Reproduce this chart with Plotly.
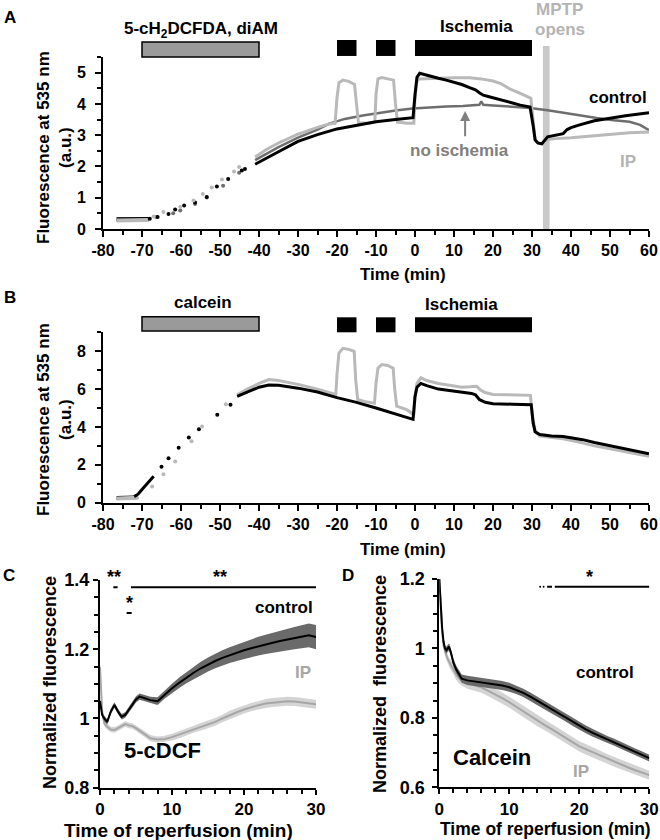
import plotly.graph_objects as go

# ---------------- DATA ----------------
# Panel A: 5-cH2DCFDA loading, fluorescence at 535 nm (a.u.)
a_pre_t = [-76.5, -75, -73.5, -72, -70.5, -69, -68.3]
a_pre_ctrl = [0.31, 0.31, 0.31, 0.3, 0.31, 0.31, 0.32]
a_pre_noisch = [0.3, 0.3, 0.3, 0.3, 0.3, 0.3, 0.31]
a_pre_ip = [0.27, 0.27, 0.27, 0.28, 0.28, 0.28, 0.29]

a_dot_ctrl_t = [-68, -66, -63.2, -61.5, -59.2, -56.4, -53.4, -50.8, -47.9, -44.4, -43.6]
a_dot_ctrl = [0.33, 0.38, 0.48, 0.62, 0.75, 0.85, 1.02, 1.36, 1.6, 1.87, 1.92]
a_dot_ip_t = [-67, -64.5, -60.2, -56.8, -54.4, -52.1, -49.5, -46.4, -45.1]
a_dot_ip = [0.4, 0.54, 0.7, 0.91, 1.12, 1.33, 1.58, 1.84, 1.98]
a_dot_noisch_t = [-66.4, -62, -60.2, -56.4, -53.4, -49.2, -45.1]
a_dot_noisch = [0.38, 0.5, 0.59, 0.8, 1.01, 1.38, 1.8]

a_ctrl_t = [-41, -38, -35, -30, -25, -20, -15, -10, -5, -0.5, 0, 0.5, 1.2, 2, 4, 6, 8, 10, 12, 14, 15.5,
            16.5, 17.5, 19, 21, 23, 25, 27, 29.5, 30.3, 30.8, 31.5, 32.5, 34, 36, 38, 39, 40, 42, 44, 46, 48,
            50, 52, 54, 56, 58, 60]
a_ctrl = [2.07, 2.28, 2.47, 2.8, 3.02, 3.2, 3.32, 3.43, 3.5, 3.56, 4.3, 4.85, 4.98, 4.95, 4.88, 4.82, 4.76,
          4.7, 4.62, 4.52, 4.45, 4.36, 4.28, 4.23, 4.17, 4.1, 4.03, 3.96, 3.9, 3.3, 2.85, 2.75, 2.72, 2.95,
          3.0, 3.05, 3.18, 3.24, 3.32, 3.4, 3.46, 3.5, 3.55, 3.58, 3.62, 3.65, 3.68, 3.72]
a_ip_t = [-41, -38, -35, -30, -25, -22, -20.5, -20, -19.5, -18.5, -17, -15.5, -15, -14.5, -12, -10.3, -10,
          -9.5, -8.5, -7, -5.5, -5, -4.5, -2, -0.3, 0, 0.5, 1, 3, 6, 10, 14, 17, 20, 22, 24, 26, 28, 29.7,
          30.2, 30.8, 31.5, 32.5, 34, 36, 40, 45, 50, 55, 60]
a_ip = [2.3, 2.55, 2.75, 3.03, 3.25, 3.36, 3.38, 4.2, 4.68, 4.76, 4.72, 4.62, 4.0, 3.4, 3.38, 3.42, 4.3,
        4.8, 4.84, 4.8, 4.76, 4.0, 3.42, 3.38, 3.38, 4.2, 4.72, 4.8, 4.81, 4.82, 4.84, 4.84, 4.8, 4.73,
        4.65, 4.5, 4.4, 4.28, 4.18, 3.5, 2.85, 2.75, 2.72, 2.86, 2.89, 2.92, 2.97, 3.02, 3.08, 3.1]
a_noisch_t = [-41, -38, -35, -30, -25, -22, -18, -13.4, -9, -5, -0.6, 4, 8, 12.3, 15, 16.5, 17, 17.5, 20,
              25, 29.5, 34, 38, 42, 46.6, 51, 55, 57.7, 59, 60]
a_noisch = [2.2, 2.42, 2.62, 2.92, 3.18, 3.37, 3.52, 3.63, 3.72, 3.79, 3.85, 3.9, 3.92, 3.93, 3.95, 3.97,
            4.08, 3.97, 3.95, 3.92, 3.87, 3.8, 3.72, 3.63, 3.55, 3.48, 3.43, 3.33, 3.24, 3.16]

# Panel B: calcein loading
b_pre_t = [-76.5, -75, -73.5, -72, -71]
b_pre_ctrl = [0.25, 0.25, 0.25, 0.27, 0.32]
b_pre_ip = [0.22, 0.22, 0.23, 0.24, 0.26]
b_ctrl_early_t = [-72, -71, -70, -69, -68, -67]
b_ctrl_early = [0.32, 0.45, 0.7, 0.95, 1.2, 1.4]
b_dot_ctrl_t = [-65, -63.2, -60.6, -58, -55.4, -50.7, -47.3]
b_dot_ctrl = [1.9, 2.35, 2.9, 3.44, 3.88, 4.65, 5.18]
b_dot_ip_t = [-67.4, -64.5, -61.5, -57.3, -54.6, -48.5]
b_dot_ip = [0.85, 1.5, 2.17, 3.25, 4.03, 5.2]

b_ctrl_t = [-45.6, -43, -40, -37.5, -35, -30, -25, -20, -15, -10, -5, -0.5, 0, 0.5, 1.5, 3, 6, 9, 12,
            14.5, 15.5, 16.5, 18, 20, 25, 29.8, 30.3, 30.8, 32, 35, 38, 40, 43, 46, 50, 55, 60]
b_ctrl = [5.62, 5.85, 6.1, 6.22, 6.2, 6.05, 5.85, 5.55, 5.3, 5.0, 4.67, 4.4, 5.6, 6.1, 6.3, 6.18, 6.0,
          5.92, 5.82, 5.77, 5.7, 5.45, 5.3, 5.23, 5.2, 5.17, 4.2, 3.75, 3.6, 3.52, 3.5, 3.44, 3.33, 3.18,
          3.02, 2.78, 2.58]
b_ip_t = [-45.6, -43, -40, -37.5, -35, -30, -25, -20.3, -20, -19.5, -18.5, -17, -15.6, -15.2, -14.7, -13,
          -10.4, -10, -9.5, -8.5, -7, -5.6, -5.2, -4.7, -2, -0.3, 0, 0.5, 1.5, 3, 6, 9, 12, 14, 15.8, 16.8,
          18, 20, 25, 29.6, 30.1, 30.8, 32, 35, 38, 42, 46, 50, 55, 60]
b_ip = [5.7, 6.0, 6.3, 6.5, 6.45, 6.25, 6.0, 5.72, 6.8, 7.9, 8.15, 8.1, 8.0, 6.5, 5.45, 5.35, 5.25, 6.3,
        7.1, 7.3, 7.25, 7.1, 6.0, 5.1, 4.9, 4.65, 5.6, 6.3, 6.6, 6.45, 6.3, 6.2, 6.1, 6.12, 6.15, 5.95,
        5.82, 5.72, 5.7, 5.67, 4.6, 3.75, 3.52, 3.45, 3.38, 3.2, 3.0, 2.85, 2.65, 2.45]

# Protocol bars (min)
loading_bar = [-70, -40]
ischemia_bars = [[-20, -15], [-10, -5], [0, 30]]
mptp_band = [32.8, 34.5]

# Panel C: 5-cDCF normalized fluorescence during reperfusion
c_t = [0, 0.3, 0.6, 1.0, 1.5, 2.0, 2.5, 3.0, 3.5, 4.0, 4.5, 5.0, 5.5, 6.0, 7, 8, 9, 10, 11, 12, 13, 14,
       15, 16, 17, 18, 19, 20, 21, 22, 23, 24, 25, 26, 27, 28, 29, 30]
c_ctrl = [1.05, 1.01, 1.0, 0.99, 1.02, 1.039, 1.02, 1.005, 1.01, 1.025, 1.04, 1.055, 1.063, 1.06, 1.053,
          1.05, 1.07, 1.087, 1.103, 1.118, 1.132, 1.145, 1.156, 1.166, 1.175, 1.183, 1.19, 1.197, 1.203,
          1.209, 1.214, 1.219, 1.224, 1.228, 1.232, 1.236, 1.24, 1.235]
c_ctrl_err = [0.008, 0.008, 0.008, 0.008, 0.008, 0.008, 0.008, 0.008, 0.008, 0.008, 0.008, 0.009, 0.009,
              0.009, 0.01, 0.011, 0.012, 0.013, 0.015, 0.016, 0.018, 0.019, 0.02, 0.021, 0.022, 0.023,
              0.024, 0.025, 0.026, 0.027, 0.028, 0.029, 0.03, 0.031, 0.032, 0.033, 0.034, 0.035]
c_ip = [1.15, 1.02, 0.985, 0.976, 0.968, 0.967, 0.972, 0.978, 0.984, 0.98, 0.978, 0.972, 0.965, 0.957,
        0.943, 0.939, 0.941, 0.946, 0.953, 0.962, 0.969, 0.976, 0.982, 0.99, 1.0, 1.01, 1.018, 1.026,
        1.033, 1.038, 1.043, 1.046, 1.049, 1.05, 1.049, 1.047, 1.045, 1.041]
c_ip_err = [0.008, 0.008, 0.008, 0.008, 0.008, 0.008, 0.008, 0.008, 0.008, 0.008, 0.008, 0.008, 0.008,
            0.008, 0.009, 0.009, 0.009, 0.01, 0.01, 0.01, 0.01, 0.011, 0.011, 0.011, 0.011, 0.012, 0.012,
            0.012, 0.012, 0.012, 0.013, 0.013, 0.013, 0.013, 0.013, 0.013, 0.013, 0.013]
c_sig_long_t = [4.3, 30]
c_sig_long_y = [1.379, 1.379]
c_sig_dash1_t = [1.85, 2.45]
c_sig_dash1_y = [1.379, 1.379]
c_sig_dash2_t = [3.7, 4.4]
c_sig_dash2_y = [1.305, 1.305]

# Panel D: calcein normalized fluorescence during reperfusion
d_t = [0, 0.2, 0.4, 0.6, 0.8, 1.0, 1.2, 1.4, 1.7, 2.0, 2.4, 2.8, 3.2, 4, 5, 6, 7, 8, 9, 10, 11, 12, 13,
       14, 15, 16, 17, 18, 19, 20, 21, 22, 23, 24, 25, 26, 27, 28, 29, 30]
d_ctrl = [1.2, 1.12, 1.06, 1.02, 1.0, 0.995, 1.0, 1.005, 0.985, 0.96, 0.94, 0.925, 0.913, 0.908, 0.905,
          0.903, 0.9, 0.897, 0.893, 0.888, 0.881, 0.872, 0.861, 0.849, 0.837, 0.825, 0.813, 0.801, 0.788,
          0.776, 0.766, 0.756, 0.747, 0.738, 0.73, 0.72, 0.711, 0.702, 0.693, 0.684]
d_ctrl_err = [0.01, 0.01, 0.01, 0.01, 0.01, 0.01, 0.01, 0.01, 0.01, 0.011, 0.011, 0.012, 0.012, 0.013,
              0.013, 0.013, 0.013, 0.013, 0.013, 0.013, 0.012, 0.012, 0.012, 0.012, 0.012, 0.012, 0.011,
              0.011, 0.011, 0.011, 0.011, 0.011, 0.01, 0.01, 0.01, 0.01, 0.01, 0.01, 0.01, 0.01]
d_ip = [1.2, 1.1, 1.05, 1.01, 0.99, 0.98, 0.97, 0.96, 0.95, 0.94, 0.925, 0.915, 0.908, 0.9, 0.895, 0.888,
        0.878, 0.868, 0.857, 0.845, 0.832, 0.818, 0.804, 0.792, 0.78, 0.768, 0.756, 0.744, 0.731, 0.718,
        0.709, 0.7, 0.691, 0.682, 0.673, 0.665, 0.657, 0.649, 0.642, 0.635]
d_ip_err = [0.012, 0.012, 0.012, 0.012, 0.012, 0.013, 0.013, 0.013, 0.014, 0.014, 0.015, 0.015, 0.015,
            0.016, 0.016, 0.016, 0.016, 0.016, 0.016, 0.016, 0.016, 0.016, 0.016, 0.016, 0.015, 0.015,
            0.015, 0.015, 0.015, 0.015, 0.015, 0.014, 0.014, 0.014, 0.014, 0.014, 0.014, 0.013, 0.013,
            0.013]
d_sig_long_t = [16.5, 30]
d_sig_long_y = [1.178, 1.178]
d_sig_dash_t = [15.4, 16.1]
d_sig_dots_t = [14.4, 14.9]
d_sig_y = [1.178, 1.178]

# Tick labels
ab_xticks = [-80, -70, -60, -50, -40, -30, -20, -10, 0, 10, 20, 30, 40, 50, 60]
ab_xticktext = ["-80", "-70", "-60", "-50", "-40", "-30", "-20", "-10", "0", "10", "20", "30", "40", "50", "60"]
c_yticks = [0.8, 1.0, 1.2, 1.4]
c_yticktext = ["0.8", "1", "1.2", "1.4"]
d_yticks = [0.6, 0.8, 1.0, 1.2]
d_yticktext = ["0.6", "0.8", "1", "1.2"]

# ---------------- STYLE ----------------
W, H = 660, 840
FONT = "Liberation Sans"
BLACK = "#000000"
IPCOL = "#b9b9b9"
NOISCH = "#6e6e6e"
C_IPLINE = "#a6a6a6"
C_IPBAND = "#d4d4d4"
C_CTRLBAND = "#6a6a6a"


def pxx(x):
    return x / W


def pyy(y):
    return 1 - y / H


fig = go.Figure()


def line(x, y, color, width, xa, ya, mode="lines", msize=4):
    fig.add_trace(go.Scatter(x=x, y=y, mode=mode, line=dict(color=color, width=width),
                             marker=dict(color=color, size=msize, line=dict(width=0)),
                             xaxis=xa, yaxis=ya, hoverinfo="skip", showlegend=False))


def band(x, y, err, color, xa, ya):
    upper = [v + e for v, e in zip(y, err)]
    lower = [v - e for v, e in zip(y, err)]
    fig.add_trace(go.Scatter(x=x, y=upper, mode="lines", line=dict(width=0, color=color),
                             xaxis=xa, yaxis=ya, hoverinfo="skip", showlegend=False))
    fig.add_trace(go.Scatter(x=x, y=lower, mode="lines", line=dict(width=0, color=color),
                             fill="tonexty", fillcolor=color, xaxis=xa, yaxis=ya,
                             hoverinfo="skip", showlegend=False))


# Panel A traces
line(a_pre_t, a_pre_noisch, NOISCH, 4, "x", "y")
line(a_pre_t, a_pre_ctrl, BLACK, 4, "x", "y")
line(a_pre_t, a_pre_ip, IPCOL, 4, "x", "y")
line(a_dot_noisch_t, a_dot_noisch, NOISCH, 0, "x", "y", mode="markers")
line(a_dot_ctrl_t, a_dot_ctrl, BLACK, 0, "x", "y", mode="markers")
line(a_dot_ip_t, a_dot_ip, IPCOL, 0, "x", "y", mode="markers")
line(a_noisch_t, a_noisch, NOISCH, 2.5, "x", "y")
line(a_ip_t, a_ip, IPCOL, 3, "x", "y")
line(a_ctrl_t, a_ctrl, BLACK, 3, "x", "y")

# Panel B traces
line(b_pre_t, b_pre_ctrl, BLACK, 4, "x2", "y2")
line(b_pre_t, b_pre_ip, IPCOL, 4, "x2", "y2")
line(b_ctrl_early_t, b_ctrl_early, BLACK, 3, "x2", "y2")
line(b_dot_ctrl_t, b_dot_ctrl, BLACK, 0, "x2", "y2", mode="markers")
line(b_dot_ip_t, b_dot_ip, IPCOL, 0, "x2", "y2", mode="markers")
line(b_ip_t, b_ip, IPCOL, 3, "x2", "y2")
line(b_ctrl_t, b_ctrl, BLACK, 3, "x2", "y2")

# Panel C traces
band(c_t, c_ip, c_ip_err, C_IPBAND, "x3", "y3")
line(c_t, c_ip, C_IPLINE, 2, "x3", "y3")
band(c_t, c_ctrl, c_ctrl_err, C_CTRLBAND, "x3", "y3")
line(c_t, c_ctrl, BLACK, 2, "x3", "y3")
line(c_sig_long_t, c_sig_long_y, BLACK, 2, "x3", "y3")
line(c_sig_dash1_t, c_sig_dash1_y, BLACK, 2, "x3", "y3")
line(c_sig_dash2_t, c_sig_dash2_y, BLACK, 2, "x3", "y3")

# Panel D traces
band(d_t, d_ip, d_ip_err, C_IPBAND, "x4", "y4")
line(d_t, d_ip, C_IPLINE, 2, "x4", "y4")
band(d_t, d_ctrl, d_ctrl_err, C_CTRLBAND, "x4", "y4")
line(d_t, d_ctrl, BLACK, 2, "x4", "y4")
line(d_sig_long_t, d_sig_long_y, BLACK, 2, "x4", "y4")
line(d_sig_dash_t, d_sig_y, BLACK, 2, "x4", "y4")
line(d_sig_dots_t, d_sig_y, BLACK, 2, "x4", "y4", mode="markers", msize=2)


# ---------------- AXES ----------------
def axis(**kw):
    base = dict(showline=True, linecolor="black", linewidth=2, ticks="outside", ticklen=6,
                tickwidth=2, tickcolor="black", showgrid=False, zeroline=False, automargin=False,
                tickfont=dict(family=FONT, size=16, color="black", weight="bold"),
                fixedrange=True)
    base.update(kw)
    return base


def minor(tick0, dtick, ln=4):
    return dict(tick0=tick0, dtick=dtick, ticks="outside", ticklen=ln, tickwidth=2,
                tickcolor="black", showgrid=False)


cd_font = dict(family=FONT, size=18, color="black", weight="bold")
cd_xfont = dict(family=FONT, size=17, color="black", weight="bold")

fig.update_layout(
    template="none",
    xaxis=axis(domain=[pxx(103), pxx(649)], range=[-80, 60], anchor="y", tickmode="array",
               tickvals=ab_xticks, ticktext=ab_xticktext, minor=minor(-80, 5)),
    yaxis=axis(domain=[pyy(229), pyy(57)], range=[0, 5.5], anchor="x", tick0=0, dtick=1,
               minor=minor(0, 0.5), ticklabelstandoff=6),
    xaxis2=axis(domain=[pxx(103), pxx(649)], range=[-80, 60], anchor="y2", tickmode="array",
                tickvals=ab_xticks, ticktext=ab_xticktext, minor=minor(-80, 5)),
    yaxis2=axis(domain=[pyy(502.7), pyy(332.3)], range=[0, 9], anchor="x2", tick0=0, dtick=2,
                minor=minor(0, 1), ticklabelstandoff=6),
    xaxis3=axis(domain=[pxx(100), pxx(316)], range=[0, 30], anchor="y3", tick0=0, dtick=10,
                minor=minor(0, 2), tickfont=cd_xfont, ticklen=5),
    yaxis3=axis(domain=[pyy(787.7), pyy(580)], range=[0.8, 1.4], anchor="x3", tickmode="array",
                tickvals=c_yticks, ticktext=c_yticktext, minor=minor(0.8, 0.05),
                tickfont=cd_font, ticklen=5),
    xaxis4=axis(domain=[pxx(439.3), pxx(649.3)], range=[0, 30], anchor="y4", tick0=0, dtick=10,
                minor=minor(0, 2), tickfont=cd_xfont, ticklen=5),
    yaxis4=axis(domain=[pyy(787.3), pyy(579)], range=[0.6, 1.2], anchor="x4", tickmode="array",
                tickvals=d_yticks, ticktext=d_yticktext, minor=minor(0.6, 0.05),
                tickfont=cd_font, ticklen=5, ticklabelstandoff=4),
)

# ---------------- SHAPES ----------------
shapes = []
shapes.append(dict(type="rect", xref="x", yref="y domain", x0=loading_bar[0], x1=loading_bar[1],
                   y0=1.0, y1=1.087, fillcolor="#9a9a9a", line=dict(color="black", width=1.5)))
for b0, b1 in ischemia_bars:
    shapes.append(dict(type="rect", xref="x", yref="y domain", x0=b0, x1=b1, y0=1.006, y1=1.099,
                       fillcolor="black", line=dict(width=0)))
shapes.append(dict(type="rect", xref="x", yref="y domain", x0=mptp_band[0], x1=mptp_band[1],
                   y0=0, y1=1.064, fillcolor="#c9c9c9", line=dict(width=0), layer="below"))
shapes.append(dict(type="rect", xref="x2", yref="y2 domain", x0=loading_bar[0], x1=loading_bar[1],
                   y0=1.008, y1=1.091, fillcolor="#9a9a9a", line=dict(color="black", width=1.5)))
for b0, b1 in ischemia_bars:
    shapes.append(dict(type="rect", xref="x2", yref="y2 domain", x0=b0, x1=b1, y0=1.0, y1=1.088,
                       fillcolor="black", line=dict(width=0)))
fig.update_layout(shapes=shapes)

# ---------------- ANNOTATIONS ----------------
anns = []


def txt(text, x, y, size=17, color="black", xref="paper", yref="paper", angle=0, **kw):
    d = dict(text=text, x=x, y=y, xref=xref, yref=yref, showarrow=False, textangle=angle,
             font=dict(family=FONT, size=size, color=color, weight="bold"),
             xanchor="center", yanchor="middle")
    d.update(kw)
    anns.append(d)


txt("A", pxx(10), pyy(17), size=17)
txt("B", pxx(10), pyy(297), size=17)
txt("C", pxx(9), pyy(575), size=17)
txt("D", pxx(348), pyy(575), size=17)

# Panel A
txt("5-cH<sub>2</sub>DCFDA, diAM", -55, pyy(30), xref="x")
txt("Ischemia", 15.7, pyy(27), xref="x")
txt("MPTP", 37.1, pyy(10), color="#b4b4b4", xref="x")
txt("opens", 37.1, pyy(30), color="#b4b4b4", xref="x")
txt("control", 52, pyy(97), xref="x")
txt("no ischemia", 11.3, pyy(150), color="#808080", xref="x")
txt("IP", 54.6, pyy(162), color="#b4b4b4", xref="x")
anns.append(dict(x=12.85, y=3.77, ax=12.85, ay=2.92, xref="x", yref="y", axref="x", ayref="y",
                 showarrow=True, arrowhead=2, arrowsize=1, arrowwidth=2, arrowcolor="#808080", text=""))
txt("Fluorescence at 535 nm<br>(a.u.)", pxx(54), pyy(148), angle=-90)
txt("Time (min)", pxx(403), pyy(275))

# Panel B
txt("calcein", -54.4, pyy(302), xref="x2")
txt("Ischemia", 12, pyy(304), xref="x2")
txt("Fluorescence at 535 nm<br>(a.u.)", pxx(54), pyy(420), angle=-90)
txt("Time (min)", pxx(403), pyy(549))

# Panel C
txt("**", 1.95, pyy(577), xref="x3", size=18)
txt("*", 4.07, pyy(603), xref="x3", size=18)
txt("**", 16.7, pyy(577), xref="x3", size=18)
txt("control", pxx(284), pyy(607))
txt("IP", pxx(303), pyy(672), color="#a6a6a6")
txt("5-cDCF", pxx(162), pyy(750), size=22)
txt("Normalized fluorescence", pxx(50), pyy(683), size=18, angle=-90)
txt("Time of reperfusion (min)", pxx(178), pyy(830), size=19)

# Panel D
txt("*", 21.5, pyy(577), xref="x4", size=18)
txt("control", pxx(605), pyy(672))
txt("IP", pxx(581), pyy(771), color="#a6a6a6")
txt("Calcein", pxx(492), pyy(757), size=22)
txt("Normalized  fluorescence", pxx(380), pyy(684), size=18, angle=-90)
txt("Time of reperfusion (min)", pxx(545), pyy(829), size=17.5)

fig.update_layout(
    annotations=anns,
    width=W, height=H, margin=dict(l=0, r=0, t=0, b=0, pad=0),
    paper_bgcolor="white", plot_bgcolor="white", showlegend=False, hovermode=False,
    font=dict(family=FONT, color="black"),
)

fig.write_html("out.html", config={"displayModeBar": False},
               post_script="document.body.style.margin='0px';document.body.style.overflow='hidden';")
